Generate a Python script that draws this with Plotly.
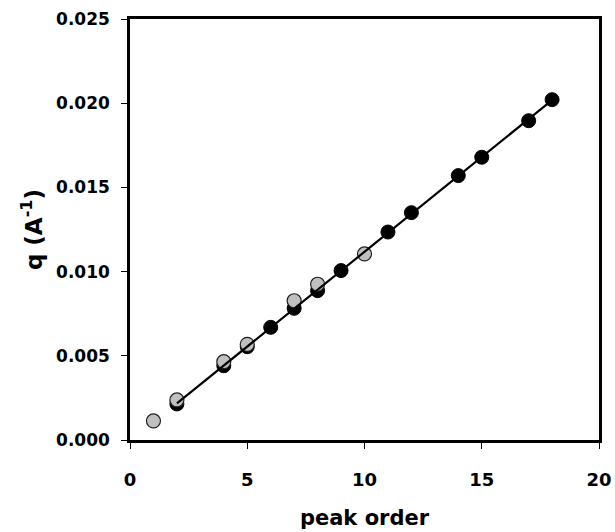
import numpy as np
import plotly.graph_objects as go

# Data
black_x = [2, 4, 5, 6, 7, 8, 9, 11, 12, 14, 15, 17, 18]
black_q = [0.00214, 0.00441, 0.00554, 0.00669, 0.00782, 0.00887, 0.01006,
           0.01235, 0.01350, 0.01570, 0.01679, 0.01896, 0.02021]
gray_x = [1, 2, 4, 5, 7, 8, 10]
gray_q = [0.00113, 0.00238, 0.00465, 0.00568, 0.00827, 0.00925, 0.01105]

x_ticks = [0, 5, 10, 15, 20]
y_ticks = [0.000, 0.005, 0.010, 0.015, 0.020, 0.025]

# linear fit through black points
slope, intercept = np.polyfit(black_x, black_q, 1)
fit_x = [min(black_x), max(black_x)]
fit_y = [slope * v + intercept for v in fit_x]

fig = go.Figure()
fig.add_trace(go.Scatter(x=black_x, y=black_q, mode="markers",
                         marker=dict(size=14, color="black",
                                     line=dict(color="black", width=1)),
                         showlegend=False))
fig.add_trace(go.Scatter(x=gray_x, y=gray_q, mode="markers",
                         marker=dict(size=14, color="#c0c0c0",
                                     line=dict(color="#202020", width=1.2)),
                         showlegend=False))
fig.add_trace(go.Scatter(x=fit_x, y=fit_y, mode="lines",
                         line=dict(color="black", width=2.2),
                         showlegend=False))

font_family = "DejaVu Sans, Liberation Sans, Arial, sans-serif"
fig.update_layout(
    width=615, height=532,
    margin=dict(l=130, r=16, t=19, b=92),
    paper_bgcolor="white", plot_bgcolor="white",
    font=dict(family=font_family, color="black"),
)
fig.update_xaxes(
    range=[0, 20], tickvals=x_ticks, ticktext=[f"<b>{v}</b>" for v in x_ticks],
    ticks="outside", ticklen=6, tickwidth=1, tickcolor="black",
    showline=True, linecolor="black", linewidth=2.5, mirror=True,
    showgrid=False, zeroline=False, ticklabelstandoff=16, automargin=False,
    tickfont=dict(size=18, family=font_family),
    title=dict(text="<b>peak order</b>", font=dict(size=21, family=font_family),
               standoff=21),
)
fig.update_yaxes(
    range=[0, 0.025], tickvals=y_ticks, ticktext=[f"<b>{v:.3f}</b>" for v in y_ticks],
    ticks="outside", ticklen=6, tickwidth=1, tickcolor="black",
    showline=True, linecolor="black", linewidth=2.5, mirror=True,
    showgrid=False, zeroline=False, ticklabelstandoff=8, automargin=False,
    tickfont=dict(size=17, family=font_family),
    title=dict(text="<b>q (A<sup>-1</sup>)</b>", font=dict(size=23, family=font_family),
               standoff=8),
)

fig.write_html("out.html")
